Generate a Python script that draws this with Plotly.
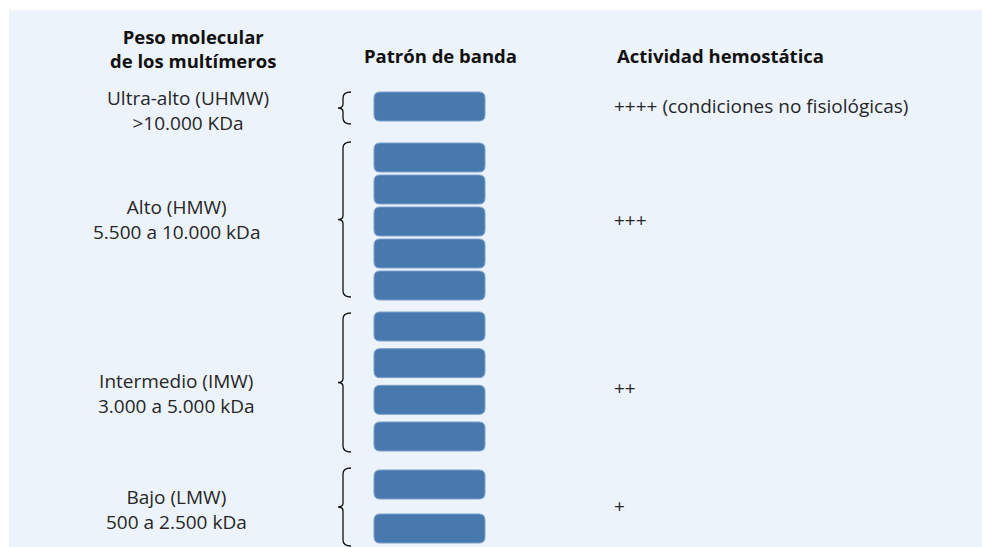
import plotly.graph_objects as go

# ---- data ----
group_names = ["Ultra-alto (UHMW)", "Alto (HMW)", "Intermedio (IMW)", "Bajo (LMW)"]
group_ranges = [">10.000 KDa", "5.500 a 10.000 kDa", "3.000 a 5.000 kDa", "500 a 2.500 kDa"]
band_counts = [1, 5, 4, 2]
activity = ["++++ (condiciones no fisiológicas)", "+++", "++", "+"]
header_left = ["Peso molecular", "de los multímeros"]
header_mid = "Patrón de banda"
header_right = "Actividad hemostática"

# ---- layout constants (pixel-like data coordinates) ----
W, H = 982, 547
group_top = [92, 143, 312, 470]
group_bottom = [121, 300, 451, 543]
brace_top = [92, 142, 313, 468]
brace_bottom = [124, 297, 452, 546]
label_x = [188, 176, 176, 176]
label_yc = [110.5, 219.5, 393.5, 509.5]
act_y = [106, 220, 388, 506]
band_h = 29
band_x0, band_x1 = 374, 485
radius = 6
band_color = "#4779AE"
panel_color = "#EDF3FB"
font_family = "'Open Sans', 'Noto Sans', sans-serif"
txt_size = 19
hdr_size = 18.5
txt_color = "#262626"

fig = go.Figure()
shapes = []
shapes.append(dict(type="rect", xref="x", yref="y", x0=9, x1=W + 5, y0=10, y1=H + 5,
                   fillcolor=panel_color, line=dict(width=0), layer="below"))


def rounded_rect(x0, y0, x1, y1, r):
    return (f"M {x0+r},{y0} L {x1-r},{y0} Q {x1},{y0} {x1},{y0+r} "
            f"L {x1},{y1-r} Q {x1},{y1} {x1-r},{y1} L {x0+r},{y1} "
            f"Q {x0},{y1} {x0},{y1-r} L {x0},{y0+r} Q {x0},{y0} {x0+r},{y0} Z")


def brace(top, bottom, xs=343, xh=351, xt=338):
    mid = (top + bottom) / 2
    return (f"M {xh},{top} Q {xs},{top} {xs},{top+6} L {xs},{mid-4} "
            f"Q {xs},{mid} {xt},{mid} Q {xs},{mid} {xs},{mid+4} "
            f"L {xs},{bottom-6} Q {xs},{bottom} {xh},{bottom}")


def text(x, y, s, anchor="center", size=txt_size, color=txt_color, bold=False):
    return dict(x=x, y=y, xref="x", yref="y", text=f"<b>{s}</b>" if bold else s,
                showarrow=False, xanchor=anchor, yanchor="middle", align=anchor,
                font=dict(family=font_family, size=size, color=color))


annotations = []
for g, n in enumerate(band_counts):
    top, bot = group_top[g], group_bottom[g]
    pitch = (bot - top - band_h) / (n - 1) if n > 1 else 0
    for i in range(n):
        y0 = top + i * pitch
        shapes.append(dict(type="path", xref="x", yref="y",
                           path=rounded_rect(band_x0, y0, band_x1, y0 + band_h, radius),
                           fillcolor=band_color, line=dict(color="#7DA0CB", width=1)))
    shapes.append(dict(type="path", xref="x", yref="y",
                       path=brace(brace_top[g], brace_bottom[g]),
                       line=dict(color="#111111", width=1.3)))
    annotations.append(text(label_x[g], label_yc[g], f"{group_names[g]}<br>{group_ranges[g]}"))
    annotations.append(text(612, act_y[g], activity[g], anchor="left"))

annotations.append(dict(text(193, 48.5, "<br>".join(header_left), size=hdr_size,
                             color="#111", bold=True)))
annotations.append(text(440, 55, header_mid, size=hdr_size, color="#111", bold=True))
annotations.append(text(615, 55, header_right, anchor="left", size=hdr_size, color="#111", bold=True))

fig.add_trace(go.Scatter(x=[0, W], y=[0, H], mode="markers",
                         marker=dict(opacity=0), hoverinfo="skip", showlegend=False))

fig.update_layout(
    width=W, height=H, margin=dict(l=0, r=0, t=0, b=0),
    paper_bgcolor="white", plot_bgcolor="white",
    shapes=shapes, annotations=annotations, showlegend=False,
    xaxis=dict(range=[0, W], visible=False, fixedrange=True),
    yaxis=dict(range=[H, 0], visible=False, fixedrange=True),
)
fig.write_html("out.html", config={"displayModeBar": False},
               post_script="document.body.style.margin='0';document.body.style.overflow='hidden';")
